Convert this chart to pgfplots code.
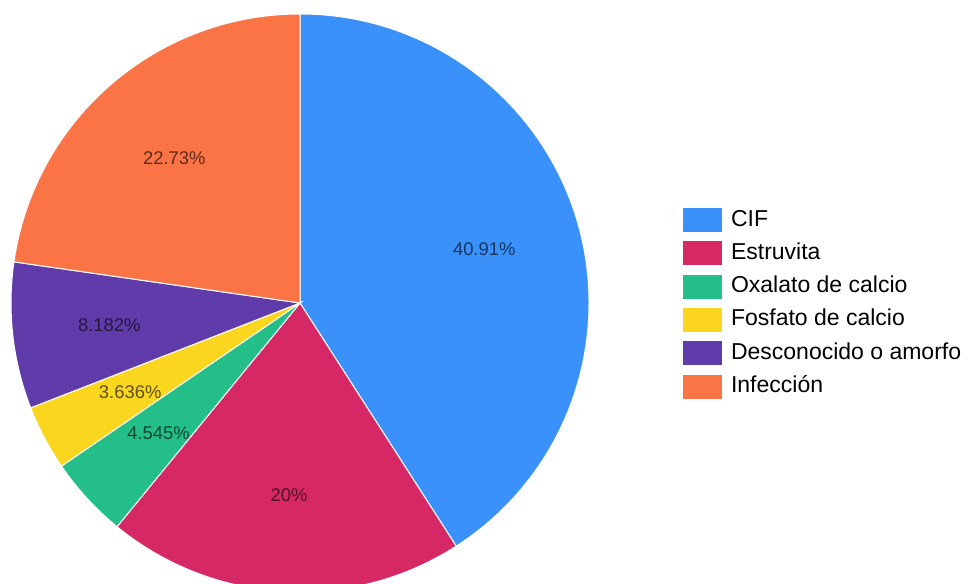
\documentclass[border=0pt]{standalone}
\usepackage{pgfplots}
\usepackage{pgfplotstable}
\pgfplotsset{compat=1.18}
\usepackage{fontspec}
\setmainfont{Liberation Sans}
\definecolor{cA}{RGB}{58,145,250}
\definecolor{cB}{RGB}{214,40,100}
\definecolor{cC}{RGB}{36,190,136}
\definecolor{cD}{RGB}{250,214,30}
\definecolor{cE}{RGB}{96,60,170}
\definecolor{cF}{RGB}{250,116,70}
\pgfplotstableread[col sep=comma]{
name,value,col
CIF,40.91,cA
Estruvita,20,cB
Oxalato de calcio,4.545,cC
Fosfato de calcio,3.636,cD
Desconocido o amorfo,8.182,cE
Infección,22.73,cF
}\pietable
\newcommand\labelfont{\fontsize{9.2}{11}\selectfont}
\begin{document}
\begin{tikzpicture}
\useasboundingbox (0,0) rectangle (486pt,291.5pt);
\clip (0,0) rectangle (486pt,291.5pt);
\begin{axis}[
  at={(0,0)}, anchor=south west,
  x=0.5pt, y=0.5pt, scale only axis,
  xmin=0, xmax=972, ymin=0, ymax=583,
  hide axis, clip=false,
  legend cell align=left,
  legend image code/.code={\fill[#1, draw=none] (0pt,-6pt) rectangle (19.5pt,6pt);},
  legend style={at={(0.7027,0.6432)}, anchor=north west, draw=none, fill=none,
    inner sep=0pt, outer sep=0pt, row sep=4.65pt, column sep=4.5pt,
    font=\fontsize{11.5}{13}\selectfont,
    nodes={inner sep=0pt, text height=8.5pt, text depth=2.5pt}},
]
\def\cum{90}
\pgfplotsforeachungrouped \i in {0,...,5}{%
  \pgfplotstablegetelem{\i}{value}\of\pietable \let\val\pgfplotsretval
  \pgfplotstablegetelem{\i}{col}\of\pietable \let\col\pgfplotsretval
  \pgfmathsetmacro\sa{\cum}%
  \pgfmathsetmacro\ea{\cum-3.6*\val}%
  \pgfmathsetmacro\ma{(\sa+\ea)/2}%
  \pgfmathsetmacro\sx{300+289*cos(\sa)}%
  \pgfmathsetmacro\sy{280+289*sin(\sa)}%
  \pgfmathsetmacro\lx{300+192*cos(\ma)}%
  \pgfmathsetmacro\ly{280+192*sin(\ma)}%
  \edef\temp{\noexpand\fill[fill=\col, draw=white, line width=0.5pt] (axis cs:300,280) -- (axis cs:\sx,\sy) arc[start angle=\sa, end angle=\ea, radius=144.5pt] -- cycle;
  \noexpand\node[text=\col!38!black, font=\noexpand\labelfont, inner sep=0pt] at (axis cs:\lx,\ly) {\val\noexpand\%};}%
  \temp
  \let\cum\ea
}
\addlegendimage{fill=cA}\addlegendentry{CIF}
\addlegendimage{fill=cB}\addlegendentry{Estruvita}
\addlegendimage{fill=cC}\addlegendentry{Oxalato de calcio}
\addlegendimage{fill=cD}\addlegendentry{Fosfato de calcio}
\addlegendimage{fill=cE}\addlegendentry{Desconocido o amorfo}
\addlegendimage{fill=cF}\addlegendentry{Infección}
\end{axis}
\end{tikzpicture}
\end{document}
